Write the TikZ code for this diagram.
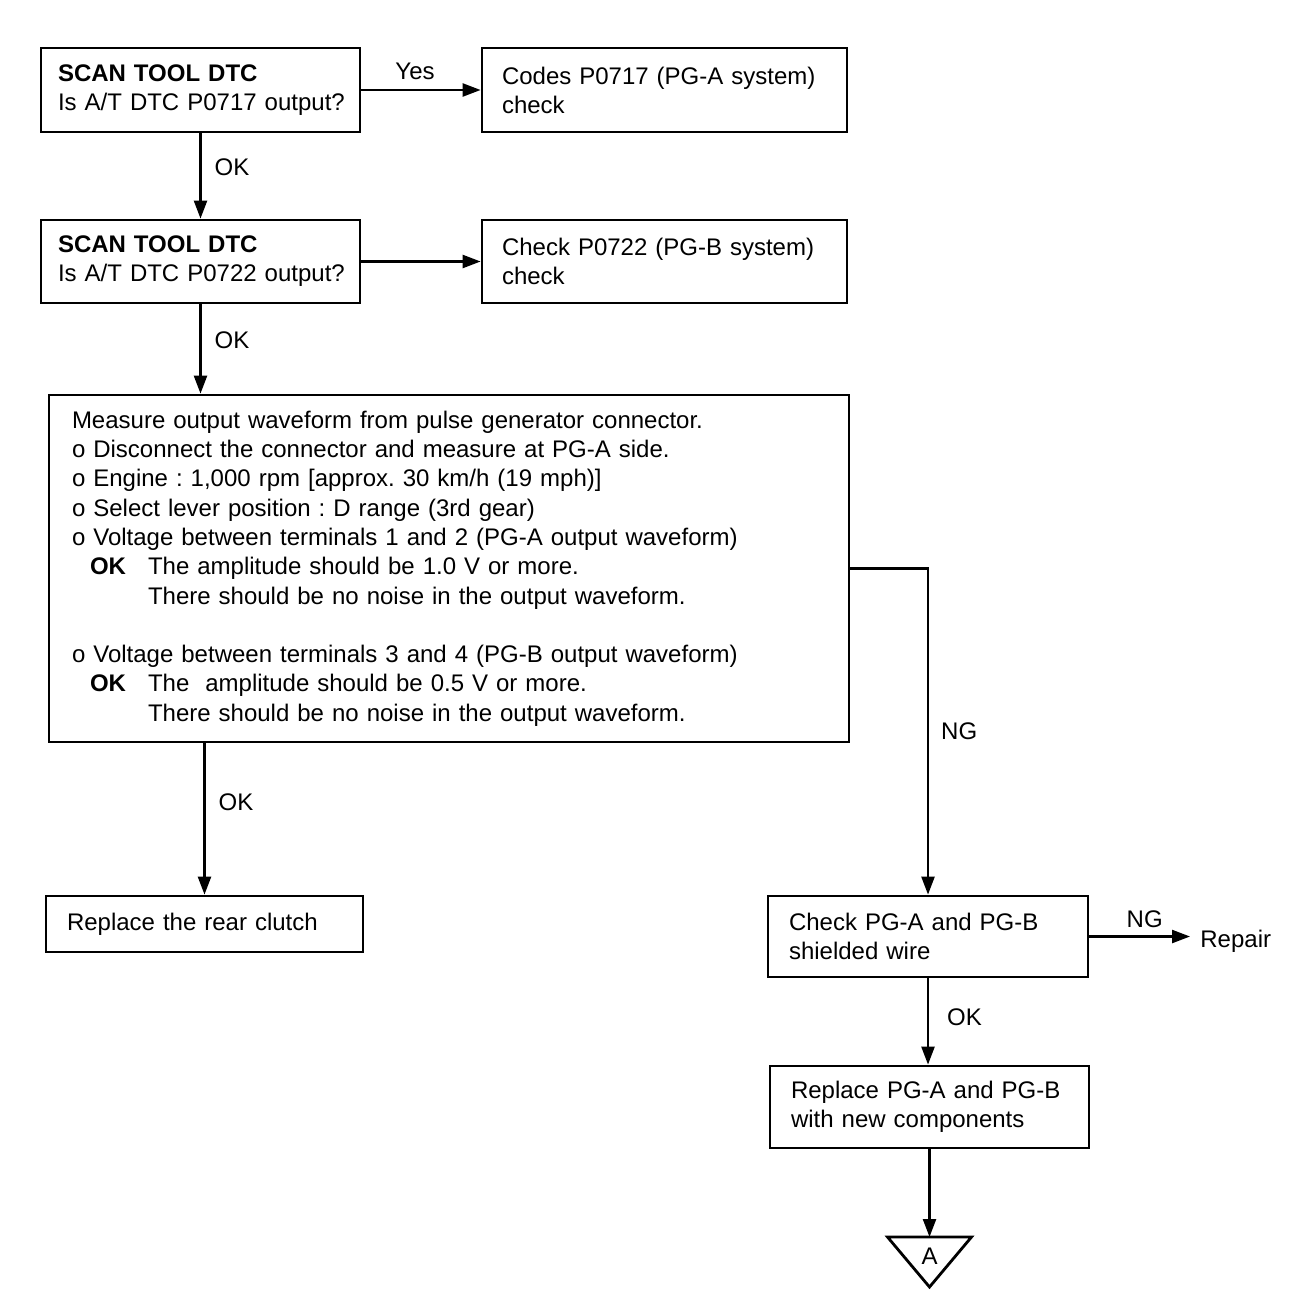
\documentclass[tikz,border=0pt]{standalone}
\usepackage{fontspec}
\setmainfont{Liberation Sans}
\usetikzlibrary{arrows.meta,calc}
\frenchspacing
\begin{document}
\begin{tikzpicture}[x=0.5pt,y=-0.5pt,
 every node/.style={font=\fontsize{12}{14.5}\selectfont},
 box/.style={draw,line width=1.4pt,align=left,inner ysep=0pt},
 arr/.style={line width=1.2pt,-{Triangle[length=9pt,width=6.5pt]}},
 lbl/.style={inner sep=0pt}]
\useasboundingbox (0,0) rectangle (1312,1316);

\node[box,text width=142.5pt,inner xsep=8.5pt,minimum height=42pt] (b1) at (200.5,90)
 {\mbox{\textbf{SCAN TOOL DTC}}\\\mbox{Is A/T DTC P0717 output?}};
\node[box,text width=162.5pt,inner xsep=10pt,minimum height=42pt] (b2) at (664.5,90)
 {\mbox{Codes P0717 (PG-A system)}\\check};
\node[box,text width=142.5pt,inner xsep=8.5pt,minimum height=41.5pt] (b3) at (200.5,261.5)
 {\mbox{\textbf{SCAN TOOL DTC}}\\\mbox{Is A/T DTC P0722 output?}};
\node[box,text width=162.5pt,inner xsep=10pt,minimum height=41.5pt] (b4) at (664.5,261.5)
 {\mbox{Check P0722 (PG-B system)}\\check};
\node[box,text width=377pt,inner xsep=11.5pt,minimum height=173.5pt,
 font=\fontsize{12}{14.65}\selectfont] (b5) at (449,568.5)
 {Measure output waveform from pulse generator connector.\\
 o Disconnect the connector and measure at PG-A side.\\
 o Engine : 1,000 rpm [approx. 30 km/h (19 mph)]\\
 o Select lever position : D range (3rd gear)\\
 o Voltage between terminals 1 and 2 (PG-A output waveform)\\
 \hspace*{9pt}\makebox[29pt][l]{\textbf{OK}}The amplitude should be 1.0 V or more.\\
 \hspace*{38pt}There should be no noise in the output waveform.\\
 \mbox{}\\
 o Voltage between terminals 3 and 4 (PG-B output waveform)\\
 \hspace*{9pt}\makebox[29pt][l]{\textbf{OK}}The\ \ amplitude should be 0.5 V or more.\\
 \hspace*{38pt}There should be no noise in the output waveform.};
\node[box,text width=137.5pt,inner xsep=10.5pt,minimum height=28pt] (b6) at (204.5,924)
 {\mbox{Replace the rear clutch}};
\node[box,text width=139pt,inner xsep=10.5pt,minimum height=40.5pt] (b7) at (928,936.5)
 {\mbox{Check PG-A and PG-B}\\shielded wire};
\node[box,text width=138.5pt,inner xsep=10.5pt,minimum height=41pt] (b8) at (929.5,1107)
 {\mbox{Replace PG-A and PG-B}\\\mbox{with new components}};
\node[lbl,anchor=west] (rep) at (1200,941) {Repair};
\coordinate (tri) at (929.5,1237);
\draw[line width=1.4pt,line join=miter] ($(tri)+(-42,0)$) -- ($(tri)+(42,0)$) -- ($(tri)+(0,50)$) -- cycle;
\node[lbl] (triA) at (929.5,1256) {A};

\draw[arr] (b1.east) -- node[lbl,pos=0.45,above=4.5pt]{Yes} (b2.west);
\draw[arr] (b1.south) -- node[lbl,pos=0.4,right=6.5pt]{OK} (b3.north);
\draw[arr] (b3.east) -- (b4.west);
\draw[arr] (b3.south) -- node[lbl,pos=0.4,right=6.5pt]{OK} (b5.north -| b3.south);
\draw[arr] (b6.north |- b5.south) -- node[lbl,pos=0.39,right=6.5pt]{OK} (b6.north);
\draw[arr] (b5.east) -| node[lbl,pos=0.75,right=6pt]{NG} (b7.north);
\draw[arr,shorten >=5pt] (b7.east) -- node[lbl,pos=0.5,above=4pt]{NG} (b7.east -| rep.west);
\draw[arr] (b7.south) -- node[lbl,pos=0.45,right=9pt]{OK} (b7.south |- b8.north);
\draw[arr] (b8.south) -- (tri);
\end{tikzpicture}
\end{document}
